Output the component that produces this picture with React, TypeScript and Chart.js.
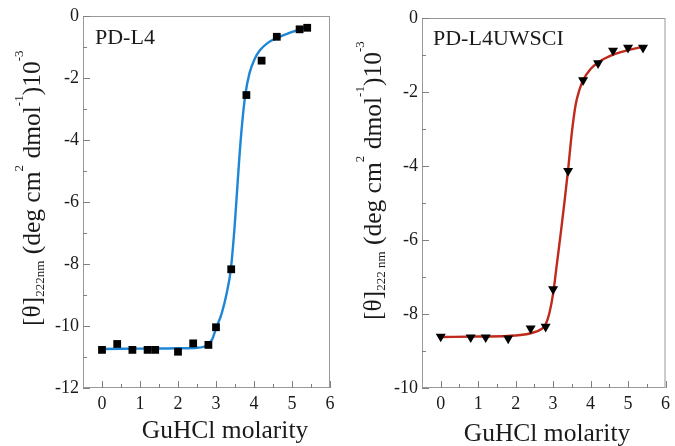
import React, { useEffect, useRef } from "react";
import { Chart, registerables } from "chart.js";

Chart.register(...registerables);

// ---------- data ----------
const X_TICKS = [0, 1, 2, 3, 4, 5, 6];
const LEFT_Y_TICKS = [-12, -10, -8, -6, -4, -2, 0];
const RIGHT_Y_TICKS = [-10, -8, -6, -4, -2, 0];

const PD_L4_X = [0, 0.4, 0.8, 1.2, 1.4, 2.0, 2.4, 2.8, 3.0, 3.4, 3.8, 4.2, 4.6, 5.2, 5.4];
const PD_L4_Y = [-10.77, -10.58, -10.77, -10.77, -10.77, -10.83, -10.56, -10.61, -10.04, -8.17, -2.55, -1.44, -0.67, -0.43, -0.38];

const PD_L4_FIT_X = [0, 1.0, 2.0, 2.5, 2.7, 2.9, 3.0, 3.15, 3.28, 3.39, 3.49, 3.55, 3.61, 3.68, 3.77, 3.88, 4.02, 4.16, 4.38, 4.58, 4.95, 5.4];
const PD_L4_FIT_Y = [-10.74, -10.73, -10.72, -10.7, -10.66, -10.43, -10.08, -9.59, -8.95, -8.17, -6.79, -5.72, -4.65, -3.57, -2.55, -1.85, -1.38, -1.1, -0.85, -0.72, -0.54, -0.34];

const UWSCI_X = [0, 0.8, 1.2, 1.8, 2.4, 2.8, 3.0, 3.4, 3.8, 4.2, 4.6, 5.0, 5.4];
const UWSCI_Y = [-8.61, -8.63, -8.63, -8.66, -8.39, -8.34, -7.33, -4.13, -1.68, -1.22, -0.88, -0.8, -0.8];

const UWSCI_FIT_X = [0, 1.0, 2.0, 2.4, 2.7, 2.8, 2.9, 3.0, 3.1, 3.2, 3.3, 3.4, 3.5, 3.6, 3.7, 3.8, 4.0, 4.2, 4.6, 5.0, 5.4];
const UWSCI_FIT_Y = [-8.62, -8.61, -8.58, -8.52, -8.4, -8.28, -7.98, -7.45, -6.65, -5.85, -5.0, -4.1, -3.1, -2.35, -1.95, -1.68, -1.38, -1.2, -0.99, -0.87, -0.78];

// ---------- style ----------
const SERIF = '"Liberation Serif", "Times New Roman", serif';
const TEXT = "#1a1a1a";
const AXIS = "#999999";

type Seg = { t: string; k: "n" | "sub" | "sup" };

const LEFT_TITLE: Seg[] = [
  { t: "[θ]", k: "n" },
  { t: "222nm", k: "sub" },
  { t: " (deg cm", k: "n" },
  { t: "2", k: "sup" },
  { t: " dmol", k: "n" },
  { t: "-1", k: "sup" },
  { t: ")10", k: "n" },
  { t: "-3", k: "sup" },
];
const RIGHT_TITLE: Seg[] = [
  { t: "[θ]", k: "n" },
  { t: "222 nm", k: "sub" },
  { t: " (deg cm", k: "n" },
  { t: "2", k: "sup" },
  { t: " dmol", k: "n" },
  { t: "-1", k: "sup" },
  { t: ")10", k: "n" },
  { t: "-3", k: "sup" },
];

type PanelCfg = {
  width: number;
  left: number;
  plotLeft: number;
  plotRight: number;
  plotTop: number;
  plotBottom: number;
  yMin: number;
  yTicks: number[];
  px: number[];
  py: number[];
  fx: number[];
  fy: number[];
  color: string;
  pointStyle: string;
  pointRadius: number;
  pointRotation: number;
  label: string;
  labelX: number;
  labelY: number;
  yTitle: Seg[];
  yTitleX: number;
  yTitleStart: number;
  xTitleX: number;
  xTitleY: number;
};

const HEIGHT = 446;

function decorPlugin(cfg: PanelCfg) {
  return {
    id: "decor",
    afterDraw(chart: any) {
      const ctx: CanvasRenderingContext2D = chart.ctx;
      const a = chart.chartArea;
      const xs = chart.scales.x;
      const ys = chart.scales.y;
      ctx.save();
      ctx.strokeStyle = AXIS;
      ctx.lineWidth = 1;
      ctx.strokeRect(a.left + 0.5, a.top + 0.5, a.right - a.left - 1, a.bottom - a.top - 1);

      // inward ticks
      ctx.strokeStyle = "#808080";
      const xt = xs.ticks.map((t: any) => t.value);
      ctx.beginPath();
      for (let i = 0; i < xt.length; i++) {
        const p = Math.round(xs.getPixelForValue(xt[i])) + 0.5;
        ctx.moveTo(p, a.bottom);
        ctx.lineTo(p, a.bottom - 7);
        if (i < xt.length - 1) {
          const m = Math.round(xs.getPixelForValue((xt[i] + xt[i + 1]) / 2)) + 0.5;
          ctx.moveTo(m, a.bottom);
          ctx.lineTo(m, a.bottom - 4);
        }
      }
      const yt = ys.ticks.map((t: any) => t.value);
      for (let i = 0; i < yt.length; i++) {
        const p = Math.round(ys.getPixelForValue(yt[i])) + 0.5;
        ctx.moveTo(a.left, p);
        ctx.lineTo(a.left + 7, p);
        if (i < yt.length - 1) {
          const m = Math.round(ys.getPixelForValue((yt[i] + yt[i + 1]) / 2)) + 0.5;
          ctx.moveTo(a.left, m);
          ctx.lineTo(a.left + 4, m);
        }
      }
      ctx.stroke();

      ctx.fillStyle = TEXT;
      // panel label
      ctx.font = `22px ${SERIF}`;
      ctx.textAlign = "left";
      ctx.textBaseline = "alphabetic";
      ctx.fillText(cfg.label, cfg.labelX, cfg.labelY);

      // x title
      ctx.font = `25.5px ${SERIF}`;
      ctx.textAlign = "center";
      ctx.fillText("GuHCl molarity", cfg.xTitleX, cfg.xTitleY);

      // y title (rotated, with sub/superscripts)
      ctx.save();
      ctx.translate(cfg.yTitleX, cfg.yTitleStart);
      ctx.rotate(-Math.PI / 2);
      ctx.textAlign = "left";
      let x = 0;
      for (const s of cfg.yTitle) {
        ctx.font = s.k === "n" ? `25.5px ${SERIF}` : `13px ${SERIF}`;
        const dy = s.k === "sub" ? 4 : s.k === "sup" ? -17 : 0;
        ctx.fillText(s.t, x, dy);
        x += ctx.measureText(s.t).width;
      }
      ctx.restore();
      ctx.restore();
    },
  };
}

function Panel({ cfg }: { cfg: PanelCfg }) {
  const ref = useRef<HTMLCanvasElement | null>(null);
  useEffect(() => {
    if (!ref.current) return;
    const tickFont = { family: SERIF, size: 18 };
    const chart = new Chart(ref.current, {
      type: "scatter",
      data: {
        datasets: [
          {
            type: "line",
            data: cfg.fx.map((x, i) => ({ x, y: cfg.fy[i] })),
            borderColor: cfg.color,
            borderWidth: 2.4,
            pointRadius: 0,
            fill: false,
            cubicInterpolationMode: "monotone",
            order: 2,
          } as any,
          {
            data: cfg.px.map((x, i) => ({ x, y: cfg.py[i] })),
            pointStyle: cfg.pointStyle as any,
            pointRadius: cfg.pointRadius,
            pointRotation: cfg.pointRotation,
            backgroundColor: "#000000",
            borderColor: "#000000",
            borderWidth: 0,
            order: 1,
          } as any,
        ],
      },
      options: {
        responsive: false,
        animation: false,
        events: [],
        layout: {
          padding: {
            top: cfg.plotTop,
            right: cfg.width - cfg.plotRight,
            left: 0,
            bottom: 0,
          },
        },
        plugins: { legend: { display: false }, tooltip: { enabled: false } },
        scales: {
          x: {
            type: "linear",
            min: -0.5,
            max: 6,
            grid: { display: false, drawTicks: false },
            border: { display: false },
            ticks: { font: tickFont, color: TEXT, padding: 5, maxRotation: 0 },
            afterBuildTicks: (s: any) => {
              s.ticks = X_TICKS.map((v) => ({ value: v }));
            },
            afterFit: (s: any) => {
              s.height = HEIGHT - cfg.plotBottom;
            },
          },
          y: {
            type: "linear",
            min: cfg.yMin,
            max: 0,
            grid: { display: false, drawTicks: false },
            border: { display: false },
            ticks: { font: tickFont, color: TEXT, padding: 4 },
            afterBuildTicks: (s: any) => {
              s.ticks = cfg.yTicks.map((v) => ({ value: v }));
            },
            afterFit: (s: any) => {
              s.width = cfg.plotLeft;
            },
          },
        },
      } as any,
      plugins: [decorPlugin(cfg)],
    });
    return () => chart.destroy();
  }, [cfg]);
  return (
    <canvas
      ref={ref}
      width={cfg.width}
      height={HEIGHT}
      style={{ position: "absolute", left: cfg.left, top: 0, width: cfg.width, height: HEIGHT }}
    />
  );
}

const LEFT_CFG: PanelCfg = {
  width: 340,
  left: 0,
  plotLeft: 83,
  plotRight: 330,
  plotTop: 16,
  plotBottom: 388,
  yMin: -12,
  yTicks: LEFT_Y_TICKS,
  px: PD_L4_X,
  py: PD_L4_Y,
  fx: PD_L4_FIT_X,
  fy: PD_L4_FIT_Y,
  color: "#1e86d6",
  pointStyle: "rect",
  pointRadius: 5.5,
  pointRotation: 0,
  label: "PD-L4",
  labelX: 95,
  labelY: 44,
  yTitle: LEFT_TITLE,
  yTitleX: 40,
  yTitleStart: 326,
  xTitleX: 225,
  xTitleY: 438,
};

const RIGHT_CFG: PanelCfg = {
  width: 335,
  left: 340,
  plotLeft: 82,
  plotRight: 328,
  plotTop: 18,
  plotBottom: 388,
  yMin: -10,
  yTicks: RIGHT_Y_TICKS,
  px: UWSCI_X,
  py: UWSCI_Y,
  fx: UWSCI_FIT_X,
  fy: UWSCI_FIT_Y,
  color: "#bf2a1c",
  pointStyle: "triangle",
  pointRadius: 5.8,
  pointRotation: 180,
  label: "PD-L4UWSCI",
  labelX: 93,
  labelY: 45,
  yTitle: RIGHT_TITLE,
  yTitleX: 41,
  yTitleStart: 320,
  xTitleX: 207,
  xTitleY: 441,
};

export default function App() {
  return (
    <div style={{ position: "absolute", left: 0, top: 0, width: 675, height: HEIGHT, background: "#ffffff" }}>
      <Panel cfg={LEFT_CFG} />
      <Panel cfg={RIGHT_CFG} />
    </div>
  );
}
